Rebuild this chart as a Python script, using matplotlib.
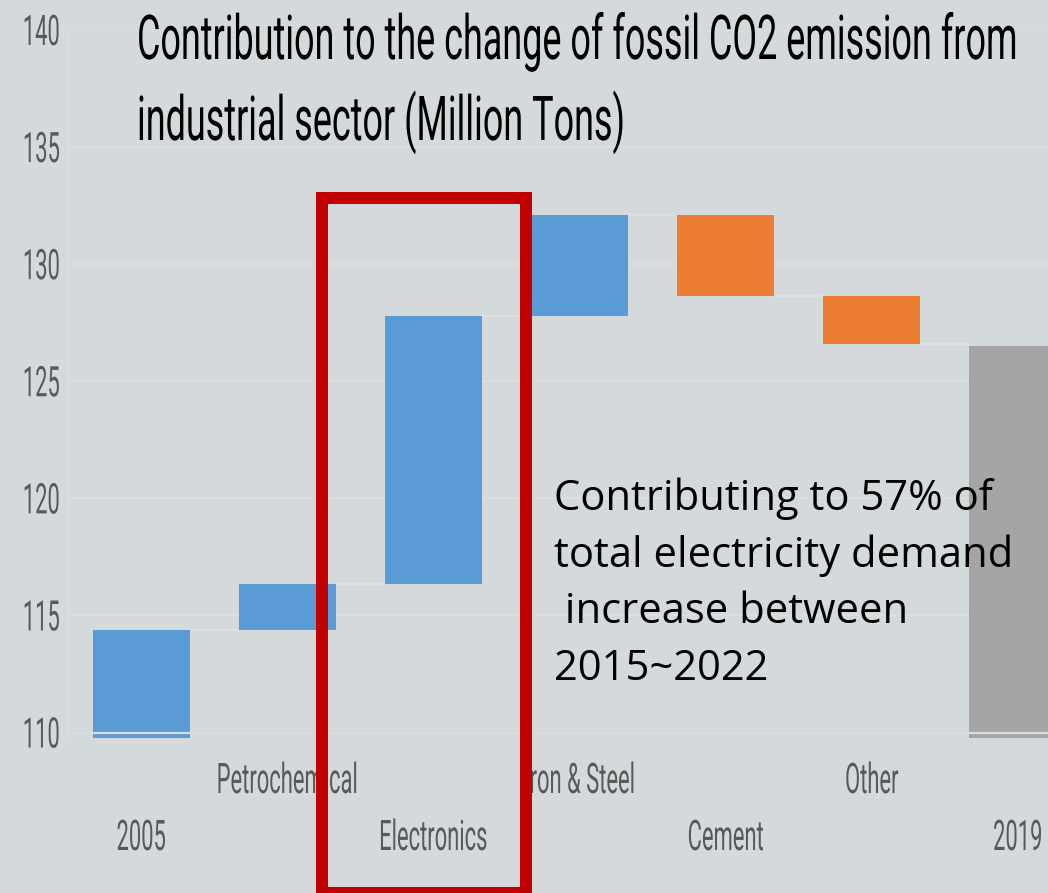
import numpy as np
import matplotlib
matplotlib.use("Agg")
import matplotlib.pyplot as plt
from matplotlib.patheffects import AbstractPathEffect
from matplotlib.transforms import Affine2D, ScaledTranslation
from matplotlib.patches import Rectangle

# ---------------- data ----------------
categories = ["2005", "Petrochemical", "Electronics", "Iron & Steel", "Cement", "Other", "2019"]
start_value = 114.4
changes = [1.95, 11.45, 4.3, -3.45, -2.05]
end_value = 126.5
y_ticks = [110, 115, 120, 125, 130, 135, 140]
title_lines = ["Contribution to the change of fossil CO2 emission from",
               "industrial sector (Million Tons)"]
note_lines = ["Contributing to 57% of", "total electricity demand",
              " increase between", "2015~2022"]

# ---------------- style ----------------
BG = "#d4d9dc"
GRID = "#dcdfe0"
BLUE = "#5b9bd5"
ORANGE = "#ed7d31"
GRAY = "#a5a5a5"
LABEL = "#595959"
RED = "#c00000"
W, H = 1048, 893


class Tall(AbstractPathEffect):
    """Stretch glyphs vertically about the baseline, giving a condensed look
    (the text stays a normal Text artist)."""
    def __init__(self, sy=1.9):
        super().__init__()
        self.sy = sy

    def draw_path(self, renderer, gc, tpath, affine, rgbFace=None):
        t = Affine2D().scale(1.0, self.sy) + affine
        renderer.draw_path(gc, tpath, t, rgbFace)


fig = plt.figure(figsize=(W / 100, H / 100), dpi=100, facecolor=BG)
ax_left, ax_right = 68.25, 1090.95
ax_top, ax_bottom = 30.0, 737.7
ax = fig.add_axes([ax_left / W, 1 - ax_bottom / H, (ax_right - ax_left) / W, (ax_bottom - ax_top) / H])
ax.set_facecolor(BG)
ax.set_xlim(-0.5, 6.5)
ax.set_ylim(109.78, 140)

x = np.arange(len(categories))
bw = 0.664

# totals
ax.bar(x[0], start_value, width=bw, color=BLUE, zorder=2)
ax.bar(x[-1], end_value, width=bw, color=GRAY, zorder=2)

# changes
level = start_value
levels = [start_value]
for i, d in enumerate(changes):
    new = level + d
    ax.bar(x[i + 1], abs(d), bottom=min(level, new), width=bw,
           color=BLUE if d > 0 else ORANGE, zorder=2)
    level = new
    levels.append(level)

# connectors
for i, lv in enumerate(levels):
    ax.hlines(lv, x[i] + bw / 2, x[i + 1] - bw / 2, color="#dedfe0", lw=1.6, zorder=1.5)

# grid
ax.set_yticks(y_ticks)
ax.yaxis.grid(True, color=GRID, lw=1.4)
ax.set_axisbelow(True)
ax.axhline(110, color="#dadcdd", lw=1.6, zorder=3)
for s in ["top", "right", "bottom"]:
    ax.spines[s].set_visible(False)
ax.spines["left"].set_color(GRID)
ax.spines["left"].set_linewidth(1.0)
ax.tick_params(length=0)

AX_FS = 15.8
AX_SY = 1.92

# y tick labels
ax.set_yticklabels([str(t) for t in y_ticks], fontsize=AX_FS, color=LABEL, family="Roboto")
ax.tick_params(axis="y", pad=6)
for lab in ax.get_yticklabels():
    lab.set_va("baseline")
    lab.set_transform(lab.get_transform() + ScaledTranslation(0, -15 / 100, fig.dpi_scale_trans))
    lab.set_path_effects([Tall(AX_SY)])

# x tick labels (staggered)
ax.set_xticks(x)
ax.set_xticklabels(categories, fontsize=AX_FS, color=LABEL, family="Roboto")
ax.tick_params(axis="x", pad=(793 - ax_bottom) * 0.72)
for i, lab in enumerate(ax.get_xticklabels()):
    lab.set_va("baseline")
    if i % 2 == 0:
        lab.set_transform(lab.get_transform() + ScaledTranslation(0, -57 / 100, fig.dpi_scale_trans))
    lab.set_path_effects([Tall(AX_SY)])

# title
for line, base in zip(title_lines, [59, 140]):
    fig.text(137 / W, 1 - base / H, line, fontsize=25.9, color="black", family="Roboto",
             fontweight="normal", ha="left", va="baseline", path_effects=[Tall(1.72)])

# annotation
for line, base in zip(note_lines, [510, 567, 623, 680]):
    fig.text(554 / W, 1 - base / H, line, fontsize=30.1, color="black", family="Open Sans",
             ha="left", va="baseline")

# red highlight frame
rect = Rectangle((322 / W, 1 - 892.7 / H), (526 - 322) / W, (892.7 - 198) / H,
                 transform=fig.transFigure, fill=False, edgecolor=RED,
                 lw=12 * 0.72, joinstyle="miter", zorder=10, clip_on=False)
fig.patches.append(rect)

fig.savefig("out.png", dpi=100, facecolor=BG)
